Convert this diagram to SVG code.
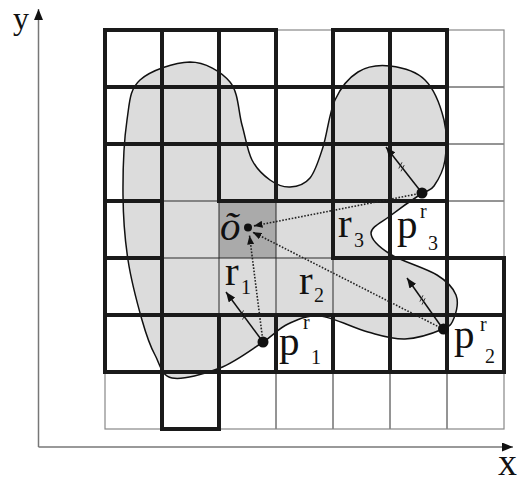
<svg xmlns="http://www.w3.org/2000/svg" width="517" height="483" viewBox="0 0 517 483">
<style>
.thin{stroke:#2a2a2a;stroke-width:1;fill:none}
.outer{stroke:#888;stroke-width:1.2;fill:none}
.thick{stroke:#1a1a1a;stroke-width:4;fill:none}
.axis{stroke:#777;stroke-width:1.5;fill:none}
.dot{stroke:#222;stroke-width:1.6;stroke-dasharray:1.6 1.6;fill:none}
.vec{stroke:#111;stroke-width:1.5;fill:none}
.tick{stroke:#222;stroke-width:0.9;fill:none}
.pt{fill:#111}
.lbl{font-family:"Liberation Serif","Times New Roman",serif;font-size:41px;fill:#111}
.sub{font-family:"Liberation Serif","Times New Roman",serif;font-size:20px;fill:#111}
</style>
<defs>
<marker id="ah" viewBox="0 0 10 8" refX="10" refY="4" markerWidth="10" markerHeight="8" markerUnits="userSpaceOnUse" orient="auto"><path d="M0,0 L10,4 L0,8 Z" fill="#111"/></marker>
<marker id="ahs" viewBox="0 0 9 7" refX="9" refY="3.5" markerWidth="9" markerHeight="7" markerUnits="userSpaceOnUse" orient="auto"><path d="M0,0 L9,3.5 L0,7 Z" fill="#111"/></marker>
<marker id="axh" viewBox="0 0 11 9" refX="11" refY="4.5" markerWidth="11" markerHeight="9" markerUnits="userSpaceOnUse" orient="auto"><path d="M0,0 L11,4.5 L0,9 Z" fill="#111"/></marker>
</defs>
<rect width="517" height="483" fill="#fff"/>

<g id="axes">
<line class="axis" x1="38.5" y1="447" x2="38.5" y2="9" marker-end="url(#axh)"/>
<line class="axis" x1="38.5" y1="447" x2="513" y2="447" marker-end="url(#axh)"/>
<text class="lbl" x="13" y="29" style="font-size:32px">y</text>
<text class="lbl" x="498" y="475" style="font-size:38px">x</text>
</g>

<g id="object">
<path fill="#dcdcdc" d="M190,62 C205,62 221.3,71.5 230,82 C238.7,92.5 238.3,112 242,125 C245.7,138 247.3,150.8 252,160 C256.7,169.2 263.7,175.5 270,180 C276.3,184.5 283.3,187.3 290,187 C296.7,186.7 304.5,184.7 310,178 C315.5,171.3 318.8,160 323,147 C327.2,134 329.2,112.5 335,100 C340.8,87.5 348.8,77.7 358,72 C367.2,66.3 378.8,64.7 390,66 C401.2,67.3 416,71 425,80 C434,89 440.7,106.7 444,120 C447.3,133.3 446.7,149 445,160 C443.3,171 438,180.3 434,186 C430,191.7 428.3,189.2 421,194 C413.7,198.8 398.2,209.7 390,216 C381.8,222.3 371,226.7 371,233 C371,239.3 379,247 390,254 C401,261 426,268.2 437,275 C448,281.8 453.2,287.8 456,295 C458.8,302.2 456.2,312.3 454,318 C451.8,323.7 451.2,325.5 443,329 C434.8,332.5 417.5,338.5 405,339 C392.5,339.5 382.2,335.8 368,332 C353.8,328.2 333.3,317.3 320,316 C306.7,314.7 297.5,319.7 288,324 C278.5,328.3 274.3,334.7 263,342 C251.7,349.3 235.2,362 220,368 C204.8,374 182.8,380.2 172,378 C161.2,375.8 160.3,364.7 155,355 C149.7,345.3 146.5,335.8 142,320 C137.5,304.2 131.2,280.8 128,260 C124.8,239.2 123.2,218.3 123,195 C122.8,171.7 124.2,139.2 127,120 C129.8,100.8 129.5,89.7 140,80 C150.5,70.3 175,62.3 190,62 Z"/>
<rect id="centroid-cell" x="219" y="201" width="57" height="57" fill="#aaaaaa"/>
</g>

<g id="grid">
<path class="thin" d="M162,30V429M219,30V429M276,30V429M333,30V429M390,30V429M447,30V429M105,87H504M105,144H504M105,201H504M105,258H504M105,315H504M105,372H504"/>
<rect class="outer" x="105" y="30" width="399" height="399"/>
</g>

<path id="outline" fill="none" stroke="#111" stroke-width="1.5" d="M190,62 C205,62 221.3,71.5 230,82 C238.7,92.5 238.3,112 242,125 C245.7,138 247.3,150.8 252,160 C256.7,169.2 263.7,175.5 270,180 C276.3,184.5 283.3,187.3 290,187 C296.7,186.7 304.5,184.7 310,178 C315.5,171.3 318.8,160 323,147 C327.2,134 329.2,112.5 335,100 C340.8,87.5 348.8,77.7 358,72 C367.2,66.3 378.8,64.7 390,66 C401.2,67.3 416,71 425,80 C434,89 440.7,106.7 444,120 C447.3,133.3 446.7,149 445,160 C443.3,171 438,180.3 434,186 C430,191.7 428.3,189.2 421,194 C413.7,198.8 398.2,209.7 390,216 C381.8,222.3 371,226.7 371,233 C371,239.3 379,247 390,254 C401,261 426,268.2 437,275 C448,281.8 453.2,287.8 456,295 C458.8,302.2 456.2,312.3 454,318 C451.8,323.7 451.2,325.5 443,329 C434.8,332.5 417.5,338.5 405,339 C392.5,339.5 382.2,335.8 368,332 C353.8,328.2 333.3,317.3 320,316 C306.7,314.7 297.5,319.7 288,324 C278.5,328.3 274.3,334.7 263,342 C251.7,349.3 235.2,362 220,368 C204.8,374 182.8,380.2 172,378 C161.2,375.8 160.3,364.7 155,355 C149.7,345.3 146.5,335.8 142,320 C137.5,304.2 131.2,280.8 128,260 C124.8,239.2 123.2,218.3 123,195 C122.8,171.7 124.2,139.2 127,120 C129.8,100.8 129.5,89.7 140,80 C150.5,70.3 175,62.3 190,62 Z"/>

<g id="occupied-cells" class="thick">
<rect x="105" y="30" width="57" height="57"/><rect x="162" y="30" width="57" height="57"/><rect x="219" y="30" width="57" height="57"/><rect x="333" y="30" width="57" height="57"/><rect x="390" y="30" width="57" height="57"/>
<rect x="105" y="87" width="57" height="57"/><rect x="162" y="87" width="57" height="57"/><rect x="219" y="87" width="57" height="57"/><rect x="276" y="87" width="57" height="57"/><rect x="333" y="87" width="57" height="57"/><rect x="390" y="87" width="57" height="57"/>
<rect x="105" y="144" width="57" height="57"/><rect x="219" y="144" width="57" height="57"/><rect x="276" y="144" width="57" height="57"/><rect x="333" y="144" width="57" height="57"/><rect x="390" y="144" width="57" height="57"/>
<rect x="105" y="201" width="57" height="57"/><rect x="333" y="201" width="57" height="57"/><rect x="390" y="201" width="57" height="57"/>
<rect x="105" y="258" width="57" height="57"/><rect x="390" y="258" width="57" height="57"/><rect x="447" y="258" width="57" height="57"/>
<rect x="105" y="315" width="57" height="57"/><rect x="162" y="315" width="57" height="57"/><rect x="219" y="315" width="57" height="57"/><rect x="276" y="315" width="57" height="57"/><rect x="333" y="315" width="57" height="57"/><rect x="390" y="315" width="57" height="57"/><rect x="447" y="315" width="57" height="57"/>
<rect x="162" y="372" width="57" height="57"/>
</g>

<g id="connectors">
<line class="dot" x1="422" y1="193" x2="253.5" y2="226" marker-end="url(#ahs)"/>
<line class="dot" x1="443" y1="329" x2="252.5" y2="232" marker-end="url(#ahs)"/>
<line class="dot" x1="263" y1="342" x2="249.5" y2="235.5" marker-end="url(#ahs)"/>
<line class="vec" x1="263" y1="342" x2="226" y2="292" marker-end="url(#ah)"/>
<line class="vec" x1="443" y1="329" x2="407" y2="278" marker-end="url(#ah)"/>
<line class="vec" x1="422" y1="193" x2="386" y2="147" marker-end="url(#ah)"/>
<path class="tick" d="M242.5,319.6L245.6,313.3M240.4,316.7L243.5,310.4"/>
<path class="tick" d="M422,304.6L425.1,298.3M419.9,301.6L423,295.3"/>
<path class="tick" d="M401,171.3L404.2,165.1M398.8,168.5L402,162.3"/>
</g>

<g id="centroid">
<circle class="pt" cx="248" cy="227.5" r="4"/>
<text class="lbl" x="220" y="240" font-style="italic">õ</text>
</g>
<g id="p1">
<circle class="pt" cx="263" cy="342" r="5.5"/>
<text class="lbl" x="279" y="355">p</text><text class="sub" x="303" y="329">r</text><text class="sub" x="311" y="364">1</text>
</g>
<g id="p2">
<circle class="pt" cx="443.5" cy="329" r="5.5"/>
<text class="lbl" x="454" y="348">p</text><text class="sub" x="480" y="331">r</text><text class="sub" x="485" y="363">2</text>
</g>
<g id="p3">
<circle class="pt" cx="422" cy="193" r="5.5"/>
<text class="lbl" x="397" y="238">p</text><text class="sub" x="420" y="218">r</text><text class="sub" x="428" y="250">3</text>
</g>
<g id="r-labels">
<text class="lbl" x="225" y="285">r</text><text class="sub" x="241" y="294">1</text>
<text class="lbl" x="299" y="294">r</text><text class="sub" x="314" y="302">2</text>
<text class="lbl" x="338" y="237">r</text><text class="sub" x="354" y="247">3</text>
</g>
</svg>
